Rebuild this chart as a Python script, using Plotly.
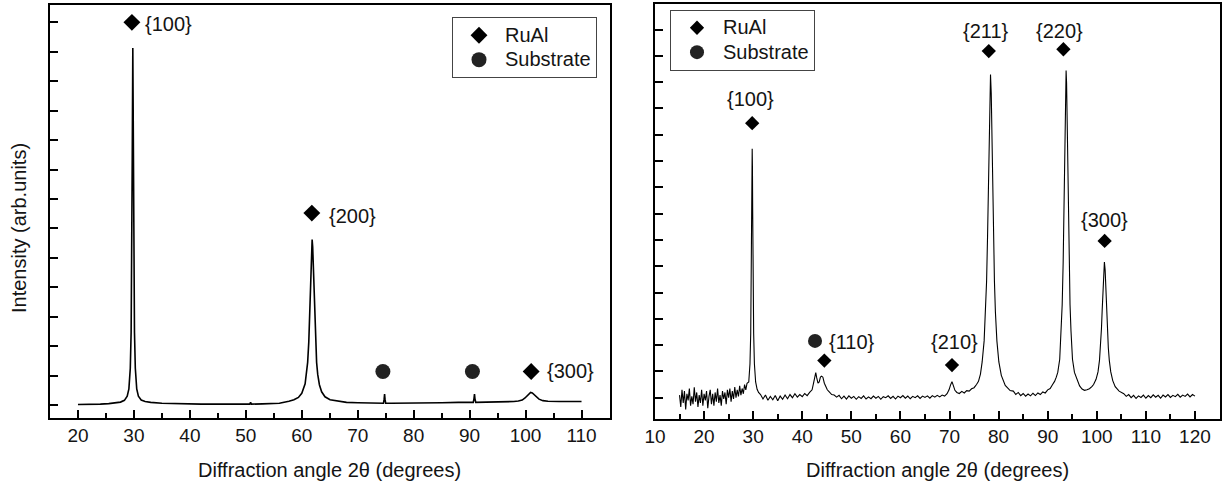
import plotly.graph_objects as go

# ---------------- Left panel data (intensity in tick units, baseline = 0) ----------------
left_x = [20, 22, 24, 25.5, 26.5, 27.6, 28.3, 28.8, 29.1, 29.35, 29.5, 29.6, 29.7, 29.8, 29.9,
          30.0, 30.1, 30.25, 30.5, 30.8, 31.3, 32.0, 33.0, 35.0, 38.0, 42.0, 46.0, 50.0, 50.7,
          50.85, 51.0, 53.0, 56.0, 57.7, 58.6, 59.4, 60.0, 60.6, 60.85, 61.05, 61.25, 61.4,
          61.55, 61.65, 61.75, 61.85, 61.95, 62.05, 62.15, 62.3, 62.45, 62.65, 62.85, 63.15,
          63.55, 64.15, 65.05, 66.35, 68.0, 70.0, 72.0, 74.0, 74.6, 74.72, 74.8, 74.88, 75.0,
          76.0, 80.0, 85.0, 88.0, 90.0, 90.65, 90.78, 90.87, 90.95, 91.1, 93.0, 96.0, 97.9,
          98.7, 99.4, 99.9, 100.3, 100.6, 100.9, 101.2, 101.5, 101.9, 102.4, 103.1, 104.0,
          106.0, 108.0, 110.0]
left_y = [0.02, 0.02, 0.03, 0.05, 0.07, 0.10, 0.16, 0.30, 0.55, 1.25, 2.47, 4.41, 8.44, 12.13, 8.44,
          4.41, 2.47, 1.25, 0.55, 0.30, 0.17, 0.12, 0.09, 0.06, 0.04, 0.03, 0.03, 0.03, 0.03,
          0.09, 0.03, 0.04, 0.06, 0.13, 0.18, 0.26, 0.40, 0.72, 1.04, 1.45, 2.13, 2.91,
          3.96, 4.74, 5.37, 5.62, 5.37, 4.74, 3.96, 2.91, 2.13, 1.45, 1.04, 0.69,
          0.45, 0.28, 0.18, 0.13, 0.09, 0.08, 0.07, 0.06, 0.06, 0.20, 0.37, 0.20, 0.06,
          0.06, 0.08, 0.08, 0.09, 0.09, 0.09, 0.22, 0.37, 0.22, 0.09, 0.10, 0.10, 0.12,
          0.14, 0.17, 0.24, 0.32, 0.40, 0.43, 0.41, 0.36, 0.28, 0.20, 0.15, 0.13,
          0.12, 0.12, 0.12]

left_ruAl_x = [29.64, 61.8, 101.0]
left_ruAl_y = [13.0, 6.52, 1.14]
left_labels = ["{100}", "{200}", "{300}"]
left_label_x = [36.2, 69.1, 108.0]
left_label_y = [12.96, 6.43, 1.14]
left_sub_x = [74.5, 90.5]
left_sub_y = [1.14, 1.14]
left_ticks = [20, 30, 40, 50, 60, 70, 80, 90, 100, 110]

# ---------------- Right panel data ----------------
right_x_a = [15.0, 15.25, 15.5, 15.75, 16.0, 16.25, 16.5, 16.75, 17.0, 17.25, 17.5, 17.75,
             18.0, 18.25, 18.5, 18.75, 19.0, 19.25, 19.5, 19.75, 20.0, 20.25, 20.5, 20.75,
             21.0, 21.25, 21.5, 21.75, 22.0, 22.25, 22.5, 22.75, 23.0, 23.25, 23.5, 23.75,
             24.0, 24.25, 24.5, 24.75, 25.0, 25.25, 25.5, 25.75, 26.0, 26.25, 26.5, 26.75,
             27.0, 27.25, 27.5, 27.75, 28.0, 28.25, 28.5, 28.75]
right_y_a = [0.10, -0.35, 0.30, -0.20, 0.25, -0.45, 0.15, -0.10, 0.35, -0.30, 0.05, -0.25,
             0.40, -0.15, 0.20, -0.35, 0.10, -0.20, 0.30, -0.30, 0.15, -0.10, 0.25, -0.40,
             0.05, 0.30, -0.25, 0.15, -0.30, 0.20, -0.15, 0.35, -0.20, 0.10, -0.30, 0.25,
             -0.05, 0.20, -0.25, 0.30, 0.00, 0.35, -0.15, 0.25, -0.05, 0.40, 0.00, 0.30,
             0.05, 0.45, 0.10, 0.35, 0.15, 0.50, 0.30, 0.55]
right_x_p100 = [29.1, 29.35, 29.5, 29.6, 29.65, 29.7, 29.75, 29.8, 29.85, 29.9, 29.95, 30.0,
                30.1, 30.25, 30.5, 30.8, 31.1]
right_y_p100 = [0.60, 1.29, 2.44, 4.14, 5.48, 7.15, 8.76, 9.47, 8.76, 7.15, 5.48, 4.14,
                2.44, 1.29, 0.60, 0.32, 0.20]
right_x_b = [31.5, 32.0, 32.5, 33.0, 33.5, 34.0, 34.5, 35.0, 35.5, 36.0, 36.5, 37.0, 37.5,
             38.0, 38.5, 39.0, 39.5, 40.0, 40.5, 41.0, 41.5,
             42.0, 42.3, 42.55, 42.75, 42.95, 43.2, 43.45, 43.7, 43.95, 44.2, 44.5, 44.8,
             45.1, 45.5, 46.0, 46.5]
right_y_b = [0.12, -0.05, 0.10, -0.10, 0.05, -0.08, 0.08, -0.12, 0.06, -0.06, 0.10, -0.04, 0.12,
             0.00, 0.15, 0.02, 0.12, 0.04, 0.16, 0.08, 0.20,
             0.30, 0.55, 0.85, 0.95, 0.75, 0.55, 0.60, 0.78, 0.82, 0.78, 0.55, 0.42,
             0.30, 0.22, 0.12, 0.10]
right_x_c = [47.0, 47.5, 48.0, 48.5, 49.0, 49.5, 50.0, 50.5, 51.0, 51.5, 52.0, 52.5, 53.0,
             53.5, 54.0, 54.5, 55.0, 55.5, 56.0, 56.5, 57.0, 57.5, 58.0, 58.5, 59.0, 59.5,
             60.0, 60.5, 61.0, 61.5, 62.0, 62.5, 63.0, 63.5, 64.0, 64.5, 65.0, 65.5, 66.0,
             66.5, 67.0, 67.5, 68.0, 68.5, 69.0,
             69.5, 69.9, 70.2, 70.5, 70.8, 71.1, 71.5, 72.0, 72.5, 73.0, 73.5, 74.0, 74.5,
             75.0, 75.5, 75.9]
right_y_c = [0.02, 0.09, -0.04, 0.06, -0.05, 0.07, -0.02, 0.05, -0.06, 0.04, -0.03, 0.07, -0.05,
             0.03, -0.04, 0.06, -0.02, 0.05, -0.06, 0.04, 0.00, 0.07, -0.03, 0.05, -0.05, 0.06,
             0.00, 0.08, -0.02, 0.06, -0.04, 0.05, 0.00, 0.07, -0.03, 0.06, 0.01, 0.07, -0.02,
             0.08, 0.02, 0.09, 0.03, 0.10, 0.06,
             0.15, 0.30, 0.48, 0.61, 0.45, 0.28, 0.20, 0.16, 0.24, 0.18, 0.27, 0.25, 0.34,
             0.38, 0.50, 0.62]
right_x_p211 = [76.3, 76.65, 77.05, 77.35, 77.55, 77.75, 77.9, 78.05, 78.2, 78.35, 78.5, 78.65,
                78.8, 78.95, 79.15, 79.35, 79.65, 80.05, 80.55, 81.35, 82.35]
right_y_p211 = [0.90, 1.36, 2.16, 3.25, 4.42, 6.15, 7.87, 9.83, 11.57, 12.29, 11.57, 9.83,
                7.87, 6.15, 4.42, 3.25, 2.16, 1.36, 0.85, 0.47, 0.27]
right_x_d = [83.0, 83.5, 84.0, 84.5, 85.0, 85.5, 86.0, 86.5, 87.0, 87.5, 88.0, 88.5, 89.0,
             89.5, 90.0, 90.5, 91.0, 91.4]
right_y_d = [0.25, 0.12, 0.20, 0.08, 0.16, 0.06, 0.14, 0.07, 0.17, 0.08, 0.18, 0.12, 0.22,
             0.18, 0.30, 0.35, 0.50, 0.62]
right_x_p220 = [91.75, 92.05, 92.45, 92.75, 92.95, 93.15, 93.3, 93.45, 93.55, 93.65, 93.75,
                93.85, 93.95, 94.05, 94.2, 94.35, 94.55, 94.75, 95.05, 95.45, 95.95, 96.5,
                97.0, 97.5, 98.0, 98.5, 99.0]
right_y_p220 = [0.78, 0.96, 1.46, 2.53, 3.53, 5.13, 6.90, 9.16, 10.73, 11.96, 12.44,
                11.96, 10.73, 9.16, 6.90, 5.13, 3.53, 2.53, 1.46, 0.96, 0.68, 0.45,
                0.33, 0.28, 0.30, 0.34, 0.42]
right_x_p300 = [99.35, 99.85, 100.25, 100.55, 100.75, 100.95, 101.1, 101.25, 101.4, 101.55,
                101.7, 101.85, 102.0, 102.15, 102.35, 102.55, 102.85, 103.25, 103.75, 104.55,
                105.5]
right_y_p300 = [0.50, 0.70, 0.98, 1.42, 1.90, 2.62, 3.32, 4.14, 4.86, 5.16,
                4.86, 4.14, 3.32, 2.62, 1.90, 1.42, 0.98, 0.65, 0.42, 0.25,
                0.15]
right_x_e = [106.0, 106.5, 107.0, 107.5, 108.0, 108.5, 109.0, 109.5, 110.0, 110.5, 111.0,
             111.5, 112.0, 112.5, 113.0, 113.5, 114.0, 114.5, 115.0, 115.5, 116.0, 116.5,
             117.0, 117.5, 118.0, 118.5, 119.0, 119.5, 120.0]
right_y_e = [0.05, 0.12, 0.00, 0.09, -0.03, 0.07, 0.01, 0.10, -0.02, 0.08, 0.00,
             0.11, 0.02, 0.09, -0.02, 0.10, 0.03, 0.12, 0.01, 0.09, 0.04, 0.13,
             0.02, 0.10, 0.05, 0.14, 0.03, 0.12, 0.06]

right_x = (right_x_a + right_x_p100 + right_x_b + right_x_c + right_x_p211 + right_x_d
           + right_x_p220 + right_x_p300 + right_x_e)
right_y = (right_y_a + right_y_p100 + right_y_b + right_y_c + right_y_p211 + right_y_d
           + right_y_p220 + right_y_p300 + right_y_e)

right_ruAl_x = [29.8, 44.5, 70.5, 78.0, 93.2, 101.6]
right_ruAl_y = [10.44, 1.41, 1.24, 13.18, 13.25, 5.96]
right_labels = ["{100}", "{110}", "{210}", "{211}", "{220}", "{300}"]
right_label_x = [29.4, 50.1, 71.1, 77.4, 92.5, 101.5]
right_label_y = [11.37, 2.13, 2.13, 13.96, 13.94, 6.75]
right_sub_x = [42.6]
right_sub_y = [2.16]
right_ticks = [10, 20, 30, 40, 50, 60, 70, 80, 90, 100, 110, 120]

series_names = ["RuAl", "Substrate"]

FONT = "Liberation Sans, Arial, sans-serif"
TXT = "#141414"
W, H = 1222, 486


def legend_name(s):
    return '<span style="font-size:20px">%s</span>' % s


fig = go.Figure()
fig.add_trace(go.Scatter(x=left_x, y=left_y, mode="lines", line=dict(color="black", width=1.6),
                         xaxis="x", yaxis="y", showlegend=False, hoverinfo="skip"))
fig.add_trace(go.Scatter(x=left_ruAl_x, y=left_ruAl_y, mode="markers",
                         name=legend_name(series_names[0]),
                         marker=dict(symbol="diamond", size=13, color="black"),
                         xaxis="x", yaxis="y", legend="legend"))
fig.add_trace(go.Scatter(x=left_sub_x, y=left_sub_y, mode="markers",
                         name=legend_name(series_names[1]),
                         marker=dict(symbol="circle", size=15, color="#222"),
                         xaxis="x", yaxis="y", legend="legend"))

fig.add_trace(go.Scatter(x=right_x, y=right_y, mode="lines", line=dict(color="black", width=1.1),
                         xaxis="x2", yaxis="y2", showlegend=False, hoverinfo="skip"))
fig.add_trace(go.Scatter(x=right_ruAl_x, y=right_ruAl_y, mode="markers",
                         name=legend_name(series_names[0]),
                         marker=dict(symbol="diamond", size=11, color="black"),
                         xaxis="x2", yaxis="y2", legend="legend2"))
fig.add_trace(go.Scatter(x=right_sub_x, y=right_sub_y, mode="markers",
                         name=legend_name(series_names[1]),
                         marker=dict(symbol="circle", size=14, color="#222"),
                         xaxis="x2", yaxis="y2", legend="legend2"))


def xaxis_style(domain, rng, ticks, anchor):
    minor_vals = [t + 5 for t in ticks]
    minor_vals = [v for v in minor_vals if rng[0] < v < rng[1]]
    if rng[0] < ticks[0] - 5:
        minor_vals = [ticks[0] - 5] + minor_vals
    return dict(domain=domain, range=rng, anchor=anchor, showline=True, mirror=True,
                linecolor="black", linewidth=2, ticks="inside", ticklen=8, tickwidth=1.5,
                tickcolor="black", tickvals=ticks, ticktext=[str(t) for t in ticks],
                tickfont=dict(family=FONT, size=19, color=TXT), showgrid=False,
                zeroline=False, ticklabelstandoff=-1, automargin=False,
                minor=dict(ticks="inside", ticklen=5, tickwidth=1.5, tickcolor="black",
                           tickvals=minor_vals, showgrid=False))


def yaxis_style(domain, rng, nt, anchor):
    return dict(domain=domain, range=rng, anchor=anchor, showline=True, mirror=True,
                linecolor="black", linewidth=2, ticks="inside", ticklen=8, tickwidth=1.5,
                tickcolor="black", tickvals=list(range(nt)), showticklabels=False,
                showgrid=False, zeroline=False, automargin=False)


annotations = []
for t, x, y in zip(left_labels, left_label_x, left_label_y):
    annotations.append(dict(text=t, x=x, y=y, xref="x", yref="y", showarrow=False,
                            xanchor="center", yanchor="middle",
                            font=dict(family=FONT, size=20, color=TXT)))
for t, x, y in zip(right_labels, right_label_x, right_label_y):
    annotations.append(dict(text=t, x=x, y=y, xref="x2", yref="y2", showarrow=False,
                            xanchor="center", yanchor="middle",
                            font=dict(family=FONT, size=20, color=TXT)))
annotations += [
    dict(text="Diffraction angle 2θ (degrees)", x=329.5 / W, y=1 - 470 / H, xref="paper",
         yref="paper", showarrow=False, xanchor="center", yanchor="middle",
         font=dict(family=FONT, size=20, color=TXT)),
    dict(text="Diffraction angle 2θ (degrees)", x=937 / W, y=1 - 470 / H, xref="paper",
         yref="paper", showarrow=False, xanchor="center", yanchor="middle",
         font=dict(family=FONT, size=20, color=TXT)),
    dict(text="Intensity (arb.units)", x=19 / W, y=1 - 228 / H, xref="paper", yref="paper",
         showarrow=False, textangle=-90, xanchor="center", yanchor="middle",
         font=dict(family=FONT, size=20, color=TXT)),
]

legend_common = dict(xanchor="left", yanchor="top", bgcolor="white", bordercolor="#444",
                     borderwidth=1, font=dict(family=FONT, size=16.5, color=TXT),
                     tracegroupgap=0, itemwidth=42)

fig.update_layout(
    width=W, height=H, margin=dict(l=0, r=0, t=0, b=0, autoexpand=False),
    paper_bgcolor="white", plot_bgcolor="white",
    xaxis=xaxis_style([50 / W, 609.5 / W], [15, 115], left_ticks, "y"),
    yaxis=yaxis_style([1 - 418 / H, 1 - 5 / H], [-0.44, 13.59], 14, "x"),
    xaxis2=xaxis_style([655 / W, 1219.5 / W], [10, 125], right_ticks, "y2"),
    yaxis2=yaxis_style([1 - 419 / H, 1 - 4 / H], [-0.81, 14.97], 15, "x2"),
    legend=dict(x=452 / W, y=1 - 17 / H, **legend_common),
    legend2=dict(x=670 / W, y=1 - 9.5 / H, **legend_common),
    annotations=annotations,
    showlegend=True,
)

fig.write_html("out.html")
